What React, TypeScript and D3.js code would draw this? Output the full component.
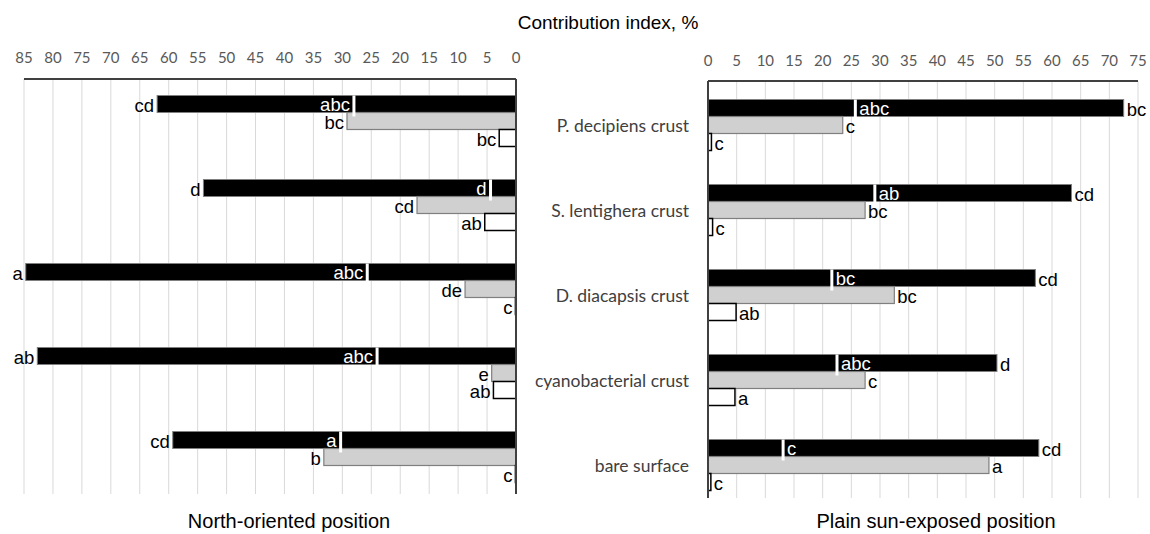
import React from "react";
import * as d3 from "d3";

// Crust / surface categories, top to bottom
const categories = [
  "P. decipiens crust",
  "S. lentighera crust",
  "D. diacapsis crust",
  "cyanobacterial crust",
  "bare surface",
];

// North-oriented position (values in %)
const northBlack = [62.0, 54.0, 84.7, 82.7, 59.3];
const northGrey = [29.2, 17.1, 8.8, 4.2, 33.2];
const northWhite = [2.9, 5.4, 0.1, 3.9, 0.1];
const northMarker = [28.0, 4.4, 25.7, 24.0, 30.3];
const northBlackLetters = ["cd", "d", "a", "ab", "cd"];
const northGreyLetters = ["bc", "cd", "de", "e", "b"];
const northWhiteLetters = ["bc", "ab", "c", "ab", "c"];
const northMarkerLetters = ["abc", "d", "abc", "abc", "a"];

// Plain sun-exposed position (values in %)
const sunBlack = [72.5, 63.4, 57.1, 50.4, 57.7];
const sunGrey = [23.5, 27.4, 32.5, 27.4, 49.0];
const sunWhite = [0.6, 0.8, 4.9, 4.7, 0.5];
const sunMarker = [25.7, 29.1, 21.6, 22.5, 13.1];
const sunBlackLetters = ["bc", "cd", "cd", "d", "cd"];
const sunGreyLetters = ["c", "bc", "bc", "c", "a"];
const sunWhiteLetters = ["c", "c", "ab", "a", "c"];
const sunMarkerLetters = ["abc", "ab", "bc", "abc", "c"];

const northTicks = d3.range(0, 86, 5);
const sunTicks = d3.range(0, 76, 5);

const W = 1150;
const H = 534;
const LETTER_FONT = "'Liberation Sans', Arial, sans-serif";
const AXIS_FONT = "Lato, 'Open Sans', sans-serif";
const LETTER_SIZE = 18.5;

type PanelProps = {
  dir: "left" | "right";
  x: d3.ScaleLinear<number, number>;
  y: d3.ScaleBand<string>;
  ticks: number[];
  tickY: number;
  top: number;
  bottom: number;
  black: number[];
  grey: number[];
  white: number[];
  marker: number[];
  blackL: string[];
  greyL: string[];
  whiteL: string[];
  markerL: string[];
};

function Panel(p: PanelProps) {
  const { x, y } = p;
  const sub = d3
    .scaleBand<string>()
    .domain(["black", "grey", "white"])
    .range([0, y.bandwidth()]);
  const h = sub.bandwidth();
  const x0 = x(0);
  const sign = p.dir === "left" ? -1 : 1;
  const anchorOut = p.dir === "left" ? "end" : "start";
  const farEnd = x(x.domain()[1]);

  const barRect = (v: number, top: number, fill: string, stroke: string, sw: number) => {
    const xv = x(v);
    return (
      <rect
        x={Math.min(x0, xv)}
        y={top}
        width={Math.abs(xv - x0)}
        height={h}
        fill={fill}
        stroke={stroke}
        strokeWidth={sw}
      />
    );
  };

  const letter = (tx: number, ty: number, s: string, fill: string) => (
    <text
      x={tx}
      y={ty}
      textAnchor={anchorOut}
      fontFamily={LETTER_FONT}
      fontSize={LETTER_SIZE}
      fill={fill}
    >
      {s}
    </text>
  );

  return (
    <g>
      {/* gridlines */}
      {p.ticks.map((t) => (
        <line
          key={"g" + t}
          x1={x(t)}
          x2={x(t)}
          y1={p.top}
          y2={p.bottom}
          stroke="#d9d9d9"
          strokeWidth={1}
        />
      ))}
      {/* tick labels */}
      {p.ticks.map((t) => (
        <text
          key={"t" + t}
          x={x(t)}
          y={p.tickY}
          textAnchor="middle"
          dominantBaseline="central"
          fontFamily={AXIS_FONT}
          fontSize={15}
          fill="#595959"
        >
          {t}
        </text>
      ))}
      {/* bars */}
      {categories.map((c, i) => {
        const by = y(c)!;
        const yB = by + sub("black")!;
        const yG = by + sub("grey")!;
        const yW = by + sub("white")!;
        const xm = x(p.marker[i]);
        return (
          <g key={c}>
            {barRect(p.black[i], yB, "#000000", "#7f7f7f", 1)}
            {barRect(p.grey[i], yG, "#d0d0d0", "#7f7f7f", 1.2)}
            {barRect(p.white[i], yW, "#ffffff", "#000000", 1.5)}
            <line
              x1={xm}
              x2={xm}
              y1={yB}
              y2={yB + h + 4}
              stroke="#ffffff"
              strokeWidth={3}
            />
            {letter(xm + sign * 4, yB + h - 1.5, p.markerL[i], "#ffffff")}
            {letter(x(p.black[i]) + sign * 3, yB + h - 1, p.blackL[i], "#000")}
            {letter(x(p.grey[i]) + sign * 3, yG + h - 0.5, p.greyL[i], "#000")}
            {letter(x(p.white[i]) + sign * 3, yW + h - 0.5, p.whiteL[i], "#000")}
          </g>
        );
      })}
      {/* axis frame: top line and zero line */}
      <line x1={x0} x2={farEnd} y1={p.top} y2={p.top} stroke="#404040" strokeWidth={2} />
      <line x1={x0} x2={x0} y1={p.top} y2={p.bottom} stroke="#404040" strokeWidth={2} />
    </g>
  );
}

function bandScale(start: number, step: number) {
  const inner = 1 - 51 / step;
  return d3
    .scaleBand<string>()
    .domain(categories)
    .range([start, start + step * categories.length])
    .paddingInner(inner)
    .paddingOuter(inner / 2);
}

export default function App() {
  const xNorth = d3.scaleLinear().domain([0, 85]).range([516, 24]);
  const xSun = d3.scaleLinear().domain([0, 75]).range([708, 1138]);
  const yNorth = bandScale(79, 84);
  const ySun = bandScale(82.5, 85);

  return (
    <svg
      width={W}
      height={H}
      style={{ position: "absolute", left: 0, top: 0, background: "#fff" }}
    >
      <rect width={W} height={H} fill="#fff" />
      <text
        x={608}
        y={22}
        textAnchor="middle"
        dominantBaseline="central"
        fontFamily={LETTER_FONT}
        fontSize={19}
        fill="#000"
      >
        Contribution index, %
      </text>
      <Panel
        dir="left"
        x={xNorth}
        y={yNorth}
        ticks={northTicks}
        tickY={57}
        top={79}
        bottom={494}
        black={northBlack}
        grey={northGrey}
        white={northWhite}
        marker={northMarker}
        blackL={northBlackLetters}
        greyL={northGreyLetters}
        whiteL={northWhiteLetters}
        markerL={northMarkerLetters}
      />
      <Panel
        dir="right"
        x={xSun}
        y={ySun}
        ticks={sunTicks}
        tickY={60}
        top={81}
        bottom={498}
        black={sunBlack}
        grey={sunGrey}
        white={sunWhite}
        marker={sunMarker}
        blackL={sunBlackLetters}
        greyL={sunGreyLetters}
        whiteL={sunWhiteLetters}
        markerL={sunMarkerLetters}
      />
      {/* category labels */}
      {categories.map((c) => (
        <text
          key={c}
          x={689}
          y={ySun(c)! + ySun.bandwidth() / 2}
          textAnchor="end"
          dominantBaseline="central"
          fontFamily={AXIS_FONT}
          fontSize={17.5}
          fill="#404040"
        >
          {c}
        </text>
      ))}
      <text
        x={289}
        y={521}
        textAnchor="middle"
        dominantBaseline="central"
        fontFamily={LETTER_FONT}
        fontSize={20}
        fill="#000"
      >
        North-oriented position
      </text>
      <text
        x={936}
        y={521}
        textAnchor="middle"
        dominantBaseline="central"
        fontFamily={LETTER_FONT}
        fontSize={20}
        fill="#000"
      >
        Plain sun-exposed position
      </text>
    </svg>
  );
}
